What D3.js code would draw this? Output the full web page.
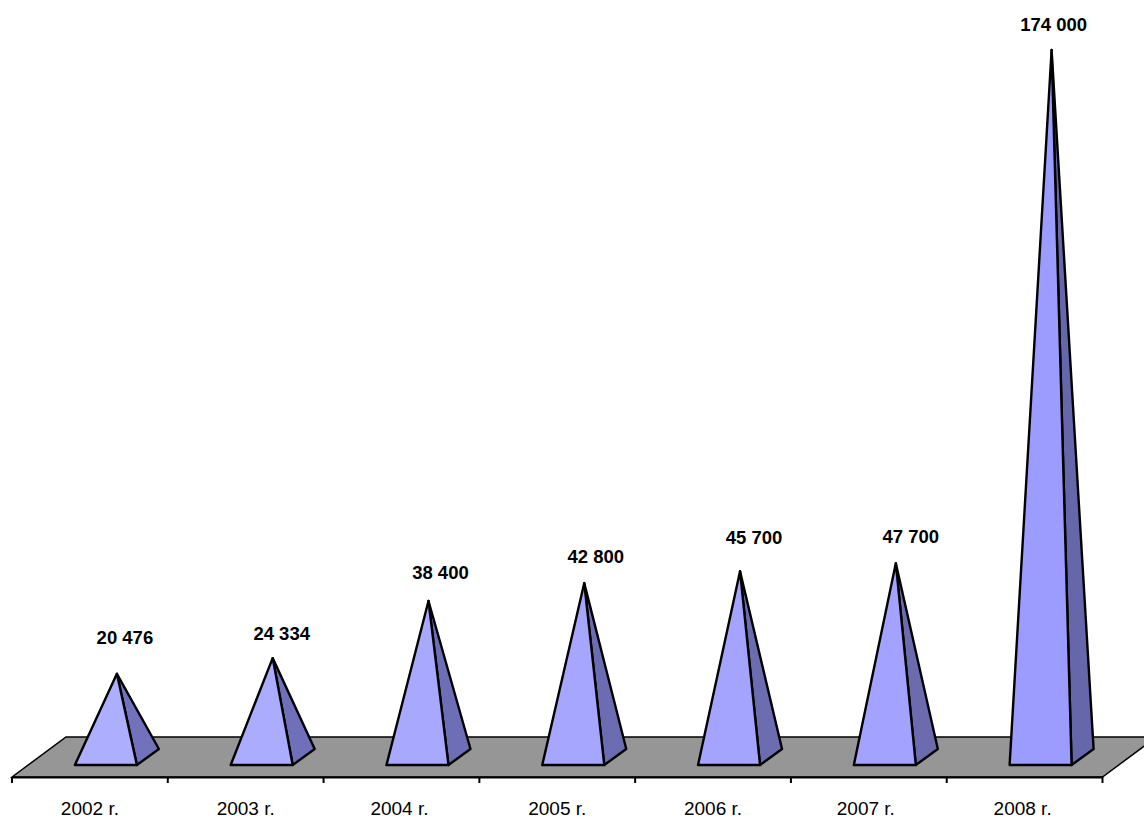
<!DOCTYPE html>
<html lang="en">
<head>
<meta charset="UTF-8">
<title>Pyramids</title>
<style>
  body { margin: 0; background: #fff; }
  svg { display: block; }
  text { font-family: "Liberation Sans", Arial, sans-serif; font-size: 18.5px; fill: #000; }
  .value { font-weight: bold; }
</style>
<script src="https://d3js.org/d3.v7.min.js"></script>
</head>
<body>
<div id="chart"></div>
<script>
const years = ["2002 r.", "2003 r.", "2004 r.", "2005 r.", "2006 r.", "2007 r.", "2008 r."];
const values = [20476, 24334, 38400, 42800, 45700, 47700, 174000];
const valueLabels = ["20 476", "24 334", "38 400", "42 800", "45 700", "47 700", "174 000"];

// hand-placed labels, relative to each apex / band centre
const labelDx = [8, 9, 12, 11.5, 14, 15, 2];
const labelDy = [-36, -24, -28, -26, -33, -26, -25];
const yearDx = [0, 0, -2, 0, 0, -3, -2];

// the original shades each pyramid a little differently
const frontColors = ["#aeaeff", "#acacff", "#a8a8ff", "#a6a6ff", "#a4a4ff", "#a3a3ff", "#9c9cff"];
const sideColors = ["#7272bc", "#7070ba", "#6e6eb6", "#6c6cb2", "#6c6cb0", "#6b6bae", "#6666aa"];

const width = 1144, height = 819;

const svg = d3.select("#chart").append("svg")
    .attr("width", width)
    .attr("height", height);

const x = d3.scaleBand().domain(years).range([12, 1102.5]);
const y = d3.scaleLinear().domain([0, 174000]).range([757, 50]);

// floor depth and base size of the pyramids
const floorFront = 777, floorBack = 737, floorDepth = 54;
const baseFront = 765, baseBack = 749;

svg.append("polygon")
    .attr("points", [
        [x.range()[0], floorFront],
        [x.range()[0] + floorDepth, floorBack],
        [x.range()[1] + floorDepth, floorBack],
        [x.range()[1], floorFront]
    ].join(" "))
    .attr("fill", "#969696")
    .attr("stroke", "#000")
    .attr("stroke-width", 1.5);

// category axis along the front edge of the floor
const axis = d3.axisBottom(x).tickSize(0).tickPadding(25);
const axisG = svg.append("g")
    .attr("transform", `translate(0,${floorFront})`)
    .call(axis);
axisG.select(".domain").attr("stroke", "#000").attr("stroke-width", 2);
axisG.selectAll("text")
    .style("font-size", "19px")
    .style("font-family", '"Liberation Sans", Arial, sans-serif')
    .attr("dx", (d, i) => yearDx[i]);
axisG.selectAll(".edge")
    .data(d3.range(years.length + 1))
    .enter().append("line")
    .attr("x1", i => i < years.length ? x(years[i]) : x.range()[1])
    .attr("x2", i => i < years.length ? x(years[i]) : x.range()[1])
    .attr("y1", 0)
    .attr("y2", 6)
    .attr("stroke", "#000")
    .attr("stroke-width", 2);

const pyramids = svg.selectAll(".pyramid")
    .data(values)
    .enter().append("g")
    .attr("class", "pyramid");

const centre = i => x(years[i]) + x.bandwidth() / 2;

// right side first, the front face overlaps it
pyramids.append("polygon")
    .attr("points", (d, i) => [
        [centre(i) + 47, baseFront],
        [centre(i) + 69, baseBack],
        [centre(i) + 27, y(d)]
    ].join(" "))
    .attr("fill", (d, i) => sideColors[i])
    .attr("stroke", "#000")
    .attr("stroke-width", 2.4)
    .attr("stroke-linejoin", "round");

pyramids.append("polygon")
    .attr("points", (d, i) => [
        [centre(i) - 15, baseFront],
        [centre(i) + 47, baseFront],
        [centre(i) + 27, y(d)]
    ].join(" "))
    .attr("fill", (d, i) => frontColors[i])
    .attr("stroke", "#000")
    .attr("stroke-width", 2.4)
    .attr("stroke-linejoin", "round");

svg.selectAll(".value")
    .data(values)
    .enter().append("text")
    .attr("class", "value")
    .attr("text-anchor", "middle")
    .attr("x", (d, i) => centre(i) + 27 + labelDx[i])
    .attr("y", (d, i) => y(d) + labelDy[i] + 6)
    .text((d, i) => valueLabels[i]);
</script>
</body>
</html>
